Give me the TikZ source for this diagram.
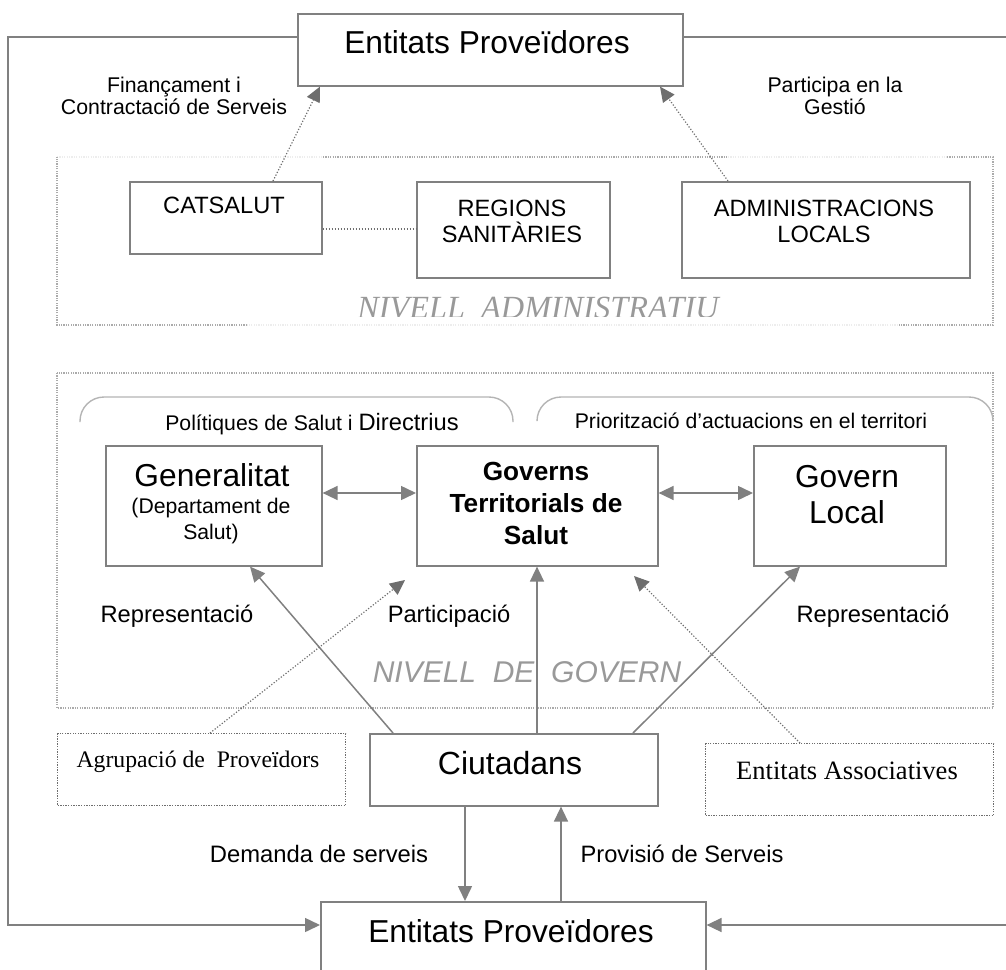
\documentclass[tikz,border=0pt]{standalone}
\usepackage{fontspec}
\setmainfont{Liberation Sans}
\newfontfamily\tms{Liberation Serif}
\usetikzlibrary{arrows.meta,calc}
\definecolor{ln}{HTML}{808080}
\definecolor{dk}{HTML}{6E6E6E}
\definecolor{fr}{HTML}{ABABAB}
\definecolor{fa}{HTML}{EDEDED}
\definecolor{tg}{HTML}{999999}
\definecolor{bk}{HTML}{B4B4B4}
\newcommand\fs[2]{\fontsize{#1}{#2}\selectfont}
\begin{document}
\begin{tikzpicture}[x=1pt,y=-1pt,
  box/.style={draw=ln, line width=1.6pt, anchor=north west, inner sep=0pt},
  dbox/.style={draw=dk, line width=1.3pt, dash pattern=on 1.3pt off 1.3pt, anchor=north west, inner sep=0pt},
  txt/.style={inner sep=0pt, align=center},
  tip/.style={-{Triangle[length=15pt,width=14pt]}},
  both/.style={{Triangle[length=15pt,width=14pt]}-{Triangle[length=15pt,width=14pt]}},
  conn/.style={draw=ln, line width=1.5pt},
  dconn/.style={draw=dk, line width=1.2pt, dash pattern=on 1.2pt off 1.8pt},
  frame/.style={draw=fr, line width=1.2pt, dash pattern=on 1.2pt off 1.2pt},
  faint/.style={draw=fa, line width=1.2pt, dash pattern=on 1.2pt off 1.2pt},
  bracket/.style={draw=bk, line width=1.4pt, rounded corners=24pt},
]
\useasboundingbox (0,0) rectangle (1006,969);

% level frames
\draw[faint] (57,157) -- (323,157);
\draw[frame] (323,157) -- (728,157);
\draw[faint] (728,157) -- (947,157);
\draw[frame] (947,157) -- (993,157) -- (993,325) -- (898,325);
\draw[faint] (898,325) -- (247,325);
\draw[frame] (247,325) -- (57,325) -- (57,157);
\draw[frame] (57,373) rectangle (993,708);

% brackets
\draw[bracket] (80,422) -- (80,397) -- (513,397) -- (513,422);
\draw[bracket] (537,420) -- (537,397) -- (993,397) -- (993,420);

% boxes
\node[box, minimum width=385pt, minimum height=72pt] (topE) at (297,13) {};
\node[box, minimum width=385pt, minimum height=100pt] (botE) at (320,901) {};
\node[box, minimum width=192pt, minimum height=72pt] (cat) at (129,181) {};
\node[box, minimum width=193pt, minimum height=96pt] (reg) at (416,181) {};
\node[box, minimum width=288pt, minimum height=96pt] (adm) at (681,181) {};
\node[box, minimum width=216pt, minimum height=120pt] (gen) at (105,445) {};
\node[box, minimum width=241pt, minimum height=120pt] (gts) at (416,445) {};
\node[box, minimum width=192pt, minimum height=120pt] (gl) at (753,445) {};
\node[box, minimum width=288pt, minimum height=72pt] (ciu) at (369,733) {};
\node[dbox, minimum width=288pt, minimum height=72pt] (agr) at (57,733) {};
\node[dbox, minimum width=288pt, minimum height=72pt] (ent) at (705,743) {};

% texts
\node[txt, anchor=base, font=\fs{31.7}{36}] (topT) at (487,53) {Entitats Proveïdores};
\node[txt, anchor=base, font=\fs{31.7}{36}] (botT) at (511,942) {Entitats Proveïdores};
\node[txt, anchor=north, font=\fs{21.3}{22}] (finT) at (174,77) {Finançament i\\Contractació de Serveis};
\node[txt, anchor=north, font=\fs{21.3}{22}] (parT) at (835,77) {Participa en la\\Gestió};
\node[txt, anchor=base, font=\fs{23.6}{26}] (catT) at (224,213) {CATSALUT};
\node[txt, anchor=north, font=\fs{23.6}{26}] (regT) at (512,200) {REGIONS\\SANITÀRIES};
\node[txt, anchor=north, font=\fs{23.6}{26}] (admT) at (824,200) {ADMINISTRACIONS\\LOCALS};
\begin{scope}
\clip (200,270) rectangle (900,316.5);
\node[txt, anchor=base, font=\tms\itshape\fs{32.3}{36}, text=tg] (naT) at (538,318.5) {NIVELL\ \ ADMINISTRATIU};
\end{scope}
\node[txt, anchor=base, font=\fs{21.2}{24}] (polT) at (312,430) {Polítiques de Salut i {\fs{23.7}{26}Directrius}};
\node[txt, anchor=base, font=\fs{21.2}{24}] (priT) at (751,428) {Priorització d’actuacions en el territori};
\node[txt, anchor=base, font=\fs{31.7}{36}] (genT1) at (212,486) {Generalitat};
\node[txt, anchor=north, font=\fs{21.2}{26}] (genT2) at (211,498) {(Departament de\\Salut)};
\node[txt, anchor=north, font=\bfseries\fs{26.2}{32}] (gtsT) at (536,462) {Governs\\Territorials de\\Salut};
\node[txt, anchor=north, font=\fs{31.7}{36}] (glT) at (847,465) {Govern\\Local};
\node[txt, anchor=base, font=\fs{23.7}{26}] (rep1) at (177,622) {Representació};
\node[txt, anchor=base, font=\fs{23.7}{26}] (parT2) at (449,622) {Participació};
\node[txt, anchor=base, font=\fs{23.7}{26}] (rep2) at (873,622) {Representació};
\node[txt, anchor=base, font=\itshape\fs{30}{34}, text=tg] (ngT) at (527,682) {NIVELL\ \ DE\ \ GOVERN};
\node[txt, anchor=base, font=\fs{32}{36}] (ciuT) at (510,774) {Ciutadans};
\node[txt, anchor=base, font=\tms\fs{23.7}{26}] (agrT) at (198,767) {Agrupació de\ \ Proveïdors};
\node[txt, anchor=base, font=\tms\fs{26.5}{30}] (entT) at (847,779) {Entitats Associatives};
\node[txt, anchor=base, font=\fs{23.8}{26}] (demT) at (319,862) {Demanda de serveis};
\node[txt, anchor=base, font=\fs{23.7}{26}] (proT) at (682,862) {Provisió de Serveis};

% outer loop
\coordinate (frTL) at (8,37);
\coordinate (frBL) at (8,925);
\coordinate (frTR) at (1014,37);
\coordinate (frBR) at (1014,925);
\draw[conn, tip] (topE.west |- frTL) -- (frTL) -- (frBL) -- (botE.west |- frBL);
\draw[conn, tip] (topE.east |- frTR) -- (frTR) -- (frBR) -- (botE.east |- frBR);

% connectors
\draw[dconn, tip] (cat.north -| 273,0) -- (topE.south -| 320,0);
\draw[dconn, tip] (adm.north -| 728,0) -- (topE.south -| 660,0);
\draw[dconn] (cat.east |- 0,229) -- (reg.west |- 0,229);
\draw[conn, both] (gen.east |- 0,493) -- (gts.west |- 0,493);
\draw[conn, both] (gts.east |- 0,493) -- (gl.west |- 0,493);
\draw[conn, tip] (ciu.north -| 393,0) -- (gen.south -| 250,0);
\draw[conn, tip] (ciu.north -| 537,0) -- (gts.south -| 537,0);
\draw[conn, tip] (ciu.north -| 633,0) -- (gl.south -| 800,0);
\coordinate (pTipL) at (405,580);
\coordinate (pTipR) at (634,576);
\draw[dconn, tip] (agr.north -| 210,0) -- (pTipL);
\draw[dconn, tip] (ent.north -| 800,0) -- (pTipR);
\draw[conn, tip] (ciu.south -| 465,0) -- (botE.north -| 465,0);
\draw[conn, tip] (botE.north -| 561,0) -- (ciu.south -| 561,0);
\end{tikzpicture}
\end{document}
